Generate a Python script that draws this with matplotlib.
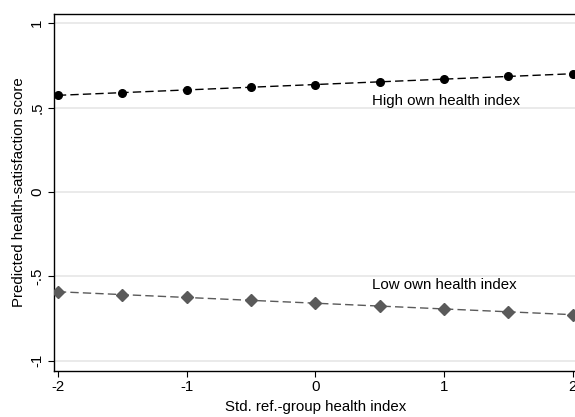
import numpy as np
import matplotlib
matplotlib.use("Agg")
import matplotlib.pyplot as plt

plt.rcParams['font.family'] = ['Liberation Sans', 'DejaVu Sans']

# predicted scores at each value of the ref-group health index
ref_index = [-2, -1.5, -1, -0.5, 0, 0.5, 1, 1.5, 2]
high_own = [0.573, 0.589, 0.605, 0.621, 0.637, 0.653, 0.669, 0.685, 0.701]
low_own = [-0.591, -0.608, -0.625, -0.642, -0.659, -0.676, -0.693, -0.710, -0.727]

x_ticks = [-2, -1, 0, 1, 2]
x_labels = ["-2", "-1", "0", "1", "2"]
y_ticks = [-1, -0.5, 0, 0.5, 1]
y_labels = ["-1", "-.5", "0", ".5", "1"]

fs = 10.8

fig = plt.figure(figsize=(5.75, 4.17), dpi=100)
# axes runs a little past the right edge of the figure, like the original export
ax = fig.add_axes([54 / 575, 1 - 370.7 / 417, 524 / 575, (370.7 - 14) / 417])

for y in y_ticks:
    ax.axhline(y, color='#e6e6e6', linewidth=1.2, zorder=0)

ax.plot(ref_index, high_own, color='black', linestyle=(0, (6, 3)), linewidth=1.0,
        marker='o', markersize=5.5, zorder=3)
ax.plot(ref_index, low_own, color='#5a5a5a', linestyle=(0, (6, 3)), linewidth=1.0,
        marker='D', markersize=6.5, zorder=3)

ax.text(0.44, 0.541, "High own health index", fontsize=fs, va='center', ha='left')
ax.text(0.44, -0.55, "Low own health index", fontsize=fs, va='center', ha='left')

ax.set_xlim(-2.03, 2.04)
ax.set_ylim(-1.059, 1.055)
ax.set_xticks(x_ticks)
ax.set_xticklabels(x_labels, fontsize=fs)
ax.set_yticks(y_ticks)
ax.set_yticklabels(y_labels, fontsize=fs, rotation=90, va='center')
ax.tick_params(length=4, width=0.8, color='black', pad=3)
ax.set_xlabel("Std. ref.-group health index", fontsize=fs, labelpad=4)
ax.set_ylabel("Predicted health-satisfaction score", fontsize=fs, labelpad=3)

for s in ax.spines.values():
    s.set_linewidth(1.0)
    s.set_color('black')

fig.savefig("out.png", dpi=100)
